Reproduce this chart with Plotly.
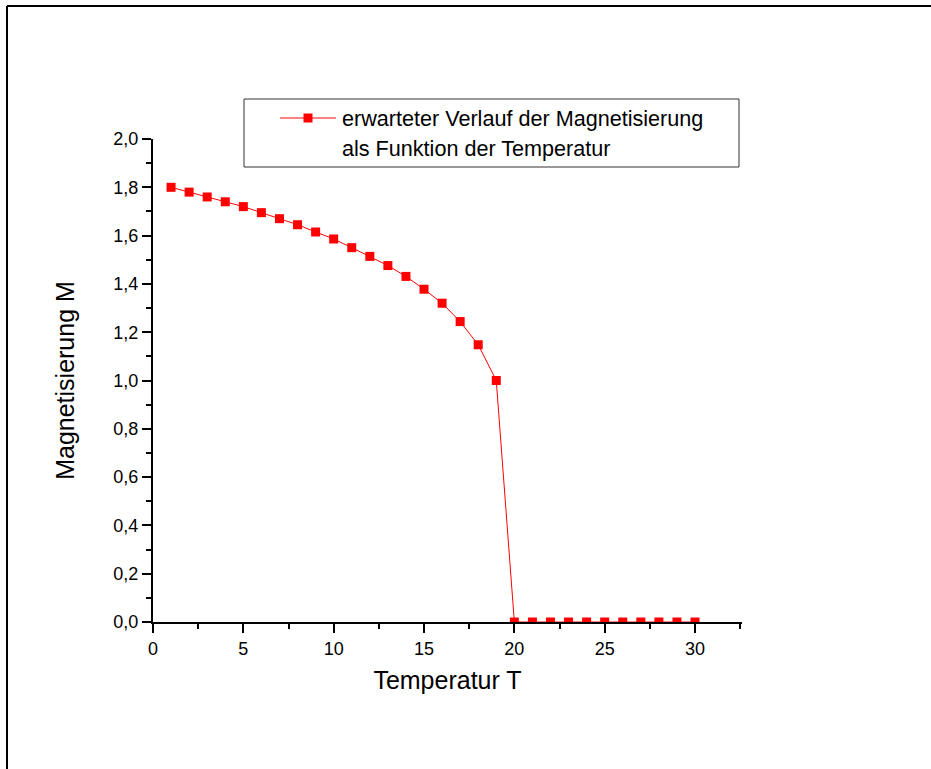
import plotly.graph_objects as go

# Data
temperature = list(range(1, 31))
magnetization = [1.80, 1.78, 1.76, 1.74, 1.72, 1.695, 1.67, 1.645, 1.615, 1.586,
                 1.55, 1.514, 1.476, 1.431, 1.378, 1.32, 1.244, 1.148, 1.0, 0.0,
                 0.0, 0.0, 0.0, 0.0, 0.0, 0.0, 0.0, 0.0, 0.0, 0.0]
x_ticks = [0, 5, 10, 15, 20, 25, 30]
y_ticks = [0.0, 0.2, 0.4, 0.6, 0.8, 1.0, 1.2, 1.4, 1.6, 1.8, 2.0]
legend_lines = ["erwarteter Verlauf der Magnetisierung", "als Funktion der Temperatur"]
x_title = "Temperatur T"
y_title = "Magnetisierung M"

FONT = "Arial, 'Liberation Sans', sans-serif"
RED = "#FF0000"

W, H = 931, 769
ML, MR, MT, MB = 153, 189, 139, 147
PW = W - ML - MR
PH = H - MT - MB


def px(xp):
    return (xp - ML) / PW


def py(yp):
    return (H - MB - yp) / PH


fig = go.Figure()
fig.add_trace(go.Scatter(
    x=temperature, y=magnetization, mode="lines+markers",
    name="<br>".join(legend_lines),
    line=dict(color=RED, width=1),
    marker=dict(symbol="square", size=9, color=RED, line=dict(width=0)),
    showlegend=False,
))

axis_common = dict(
    showgrid=False, zeroline=False, showline=True, linecolor="black", linewidth=2,
    ticks="outside", ticklen=9, tickwidth=2, tickcolor="black",
    tickfont=dict(family=FONT, size=18, color="black"),
)

fig.update_xaxes(
    range=[0, 32.6], tickvals=x_ticks, ticktext=[str(v) for v in x_ticks],
    minor=dict(dtick=2.5, tick0=0, ticks="outside", ticklen=5, tickwidth=2, tickcolor="black"),
    title=dict(text=x_title, font=dict(family=FONT, size=25, color="black"), standoff=14),
    **axis_common,
)
fig.update_yaxes(
    range=[0, 2.0], tickvals=y_ticks, ticktext=[f"{v:.1f}".replace(".", ",") for v in y_ticks],
    minor=dict(dtick=0.1, tick0=0, ticks="outside", ticklen=5, tickwidth=2, tickcolor="black"),
    title=dict(text=y_title, font=dict(family=FONT, size=25, color="black"), standoff=32),
    **axis_common,
)

shapes = []
# outer frame: only top and left edges are visible in the picture
shapes.append(dict(type="line", xref="paper", yref="paper",
                   x0=px(7), x1=px(931), y0=py(6), y1=py(6),
                   line=dict(color="black", width=2)))
shapes.append(dict(type="line", xref="paper", yref="paper",
                   x0=px(7), x1=px(7), y0=py(6), y1=py(769),
                   line=dict(color="black", width=2)))
# white cover at the right edge
shapes.append(dict(type="rect", xref="paper", yref="paper",
                   x0=px(912), x1=px(931), y0=py(769), y1=py(10),
                   line=dict(width=0), fillcolor="white"))
# legend box
shapes.append(dict(type="rect", xref="paper", yref="paper",
                   x0=px(244), x1=px(739), y0=py(167), y1=py(99),
                   line=dict(color="#333333", width=1), fillcolor="white"))
# legend line sample
shapes.append(dict(type="line", xref="paper", yref="paper",
                   x0=px(280), x1=px(336), y0=py(118), y1=py(118),
                   line=dict(color=RED, width=1)))
# legend marker sample
shapes.append(dict(type="rect", xref="paper", yref="paper",
                   xsizemode="pixel", ysizemode="pixel",
                   xanchor=px(308), yanchor=py(118),
                   x0=-4.5, x1=4.5, y0=-4.5, y1=4.5,
                   line=dict(width=0), fillcolor=RED))

annotations = []
for txt, yc in zip(legend_lines, [118, 149]):
    annotations.append(dict(
        text=txt, xref="paper", yref="paper", x=px(340), y=py(yc),
        xanchor="left", yanchor="middle", showarrow=False,
        font=dict(family=FONT, size=21.6, color="black"),
    ))

fig.update_layout(
    width=W, height=H,
    margin=dict(l=ML, r=MR, t=MT, b=MB),
    paper_bgcolor="white", plot_bgcolor="white",
    shapes=shapes, annotations=annotations,
    showlegend=False,
)

fig.write_html("out.html")
